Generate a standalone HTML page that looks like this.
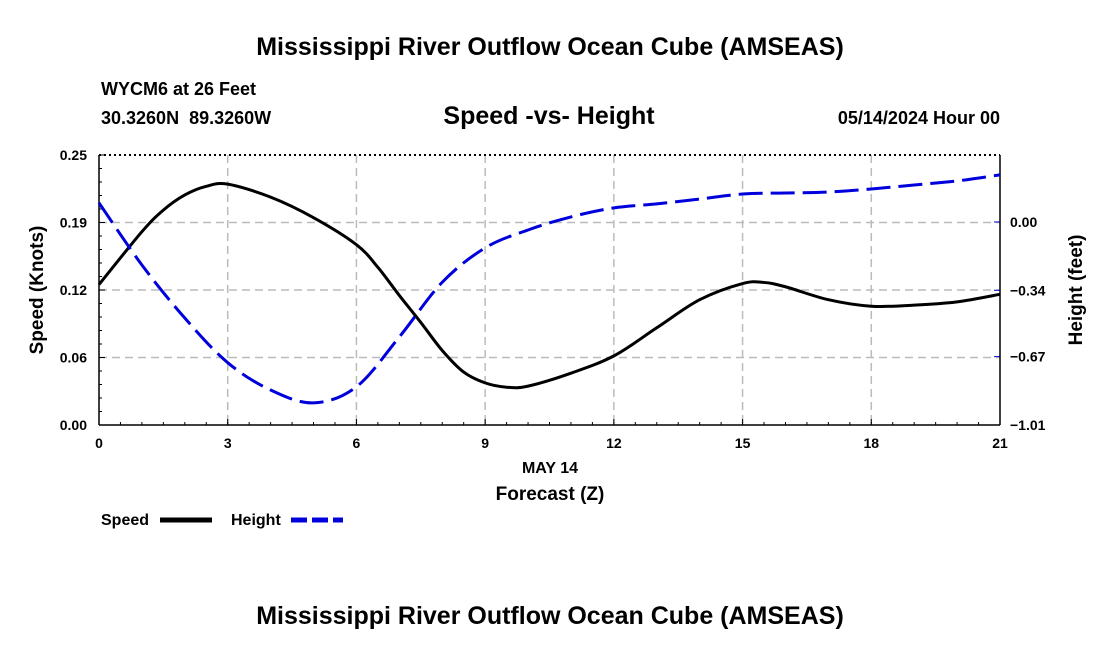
<!DOCTYPE html>
<html><head><meta charset="utf-8"><style>
body{margin:0;background:#fff;}
svg{display:block;font-family:"Liberation Sans",Arial,sans-serif;}
</style></head><body>
<svg id="chart" width="1100" height="650">
<text x="550" y="55" text-anchor="middle" font-size="25" font-weight="bold">Mississippi River Outflow Ocean Cube (AMSEAS)</text>
<text x="101" y="95" font-size="18" font-weight="bold">WYCM6 at 26 Feet</text>
<text x="101" y="124" font-size="18" font-weight="bold" xml:space="preserve">30.3260N  89.3260W</text>
<text x="549" y="124" text-anchor="middle" font-size="25" font-weight="bold">Speed -vs- Height</text>
<text x="1000" y="124" text-anchor="end" font-size="18" font-weight="bold">05/14/2024 Hour 00</text>
<g id="grid"></g>
<g id="axes"></g>
<g id="series"></g>
<text x="550" y="473" text-anchor="middle" font-size="16" font-weight="bold">MAY 14</text>
<text x="550" y="500" text-anchor="middle" font-size="19" font-weight="bold">Forecast (Z)</text>
<text transform="translate(43,290) rotate(-90)" text-anchor="middle" font-size="19" font-weight="bold">Speed (Knots)</text>
<text transform="translate(1082,290) rotate(-90)" text-anchor="middle" font-size="19" font-weight="bold">Height (feet)</text>
<g>
<text x="101" y="525" font-size="16" font-weight="bold">Speed</text>
<line x1="160" y1="520" x2="212" y2="520" stroke="#000" stroke-width="5"/>
<text x="231" y="525" font-size="16" font-weight="bold">Height</text>
<line x1="291" y1="520" x2="343" y2="520" stroke="#0000dd" stroke-width="5" stroke-dasharray="16,5"/>
</g>
<text x="550" y="624" text-anchor="middle" font-size="25" font-weight="bold">Mississippi River Outflow Ocean Cube (AMSEAS)</text>
</svg>
<script>
const hours=[0,1,1.5,2,2.5,3,4,5,6,6.5,7,7.5,8,8.5,9,9.5,10,11,12,13,14,15,15.5,16,17,18,19,20,21];
const speed=[0.130,0.179,0.199,0.213,0.221,0.223,0.211,0.192,0.167,0.146,0.120,0.095,0.069,0.049,0.039,0.035,0.036,0.048,0.064,0.090,0.116,0.131,0.132,0.128,0.116,0.110,0.111,0.114,0.121];
const hHours=[0,1,2,3,4,5,6,7,8,9,10,11,12,13,14,15,16,17,18,19,20,21];
const height=[0.095,-0.214,-0.478,-0.700,-0.836,-0.900,-0.820,-0.572,-0.300,-0.129,-0.040,0.025,0.070,0.090,0.114,0.139,0.144,0.149,0.164,0.184,0.204,0.234];
const xTicks=[0,3,6,9,12,15,18,21];
const leftTicks=[0,0.0625,0.125,0.1875,0.25];
const leftLabels=["0.00","0.06","0.12","0.19","0.25"];
const rightTicks=[-1.01,-0.67,-0.34,0.00];
const rightLabels=["\u22121.01","\u22120.67","\u22120.34","0.00"];
const L=99,R=1000,T=155,B=425;
const X=h=>L+(h/21)*(R-L);
const Y=s=>B-(s/0.25)*(B-T);
const YR=v=>B-((v+1.01)/1.343)*(B-T);
const NS="http://www.w3.org/2000/svg";
function mk(tag,attrs,parent){const e=document.createElementNS(NS,tag);for(const k in attrs)e.setAttribute(k,attrs[k]);parent.appendChild(e);return e;}
const grid=document.getElementById('grid'),axes=document.getElementById('axes'),ser=document.getElementById('series');
xTicks.forEach((h,i)=>{
 if(i>0&&i<xTicks.length-1){const g=mk('line',{x1:X(h),x2:X(h),y1:T,y2:B,stroke:'#bbb','stroke-width':1.5,'stroke-dasharray':'8,5'},grid);
 
 }
 const t=mk('text',{x:X(h),y:B+23,'text-anchor':'middle','font-size':14,'font-weight':'bold'},axes);t.textContent=h;
 
 
 mk('line',{x1:X(h),x2:X(h),y1:B,y2:B-6,stroke:'#000'},axes);
});
for(let h=0;h<=21;h+=0.5){mk('line',{x1:X(h),x2:X(h),y1:B,y2:B-3,stroke:'#000'},axes);}
leftTicks.forEach((s,i)=>{
 if(i>0&&i<leftTicks.length-1){const g=mk('line',{x1:L,x2:R,y1:Y(s),y2:Y(s),stroke:'#bbb','stroke-width':1.5,'stroke-dasharray':'8,5'},grid);
 
 }
 const t=mk('text',{x:L-12,y:Y(s)+5,'text-anchor':'end','font-size':14,'font-weight':'bold'},axes);t.textContent=leftLabels[i];
 
 
 mk('line',{x1:L,x2:L+6,y1:Y(s),y2:Y(s),stroke:'#000'},axes);
});
for(let s=0;s<=0.25;s+=0.0125){mk('line',{x1:L,x2:L+3,y1:Y(s),y2:Y(s),stroke:'#000'},axes);}
rightTicks.forEach((v,i)=>{
 const t=mk('text',{x:R+10,y:YR(v)+5,'font-size':14,'font-weight':'bold'},axes);t.textContent=rightLabels[i];
 
 
 mk('line',{x1:R-6,x2:R,y1:YR(v),y2:YR(v),stroke:'#0000dd'},axes);
});
mk('line',{x1:L,x2:R,y1:T,y2:T,stroke:'#000','stroke-width':2,'stroke-dasharray':'2,3'},axes);
mk('line',{x1:L,x2:R,y1:B,y2:B,stroke:'#000','stroke-width':1.5},axes);
mk('line',{x1:L,x2:L,y1:T,y2:B,stroke:'#000','stroke-width':1.5},axes);
mk('line',{x1:R,x2:R,y1:T,y2:B,stroke:'#000','stroke-width':1.5},axes);
function smooth(pts){let d=`M${pts[0][0]},${pts[0][1]}`;for(let i=0;i<pts.length-1;i++){const p0=pts[i-1]||pts[i],p1=pts[i],p2=pts[i+1],p3=pts[i+2]||p2;
 d+=` C${p1[0]+(p2[0]-p0[0])/6},${p1[1]+(p2[1]-p0[1])/6} ${p2[0]-(p3[0]-p1[0])/6},${p2[1]-(p3[1]-p1[1])/6} ${p2[0]},${p2[1]}`;}return d;}
const sp=mk('path',{d:smooth(hours.map((h,i)=>[X(h),Y(speed[i])])),fill:'none',stroke:'#000','stroke-width':3},ser);


const hp=mk('path',{d:smooth(hHours.map((h,i)=>[X(h),YR(height[i])])),fill:'none',stroke:'#0000dd','stroke-width':3,'stroke-dasharray':'24,8'},ser);


</script>
</body></html>
